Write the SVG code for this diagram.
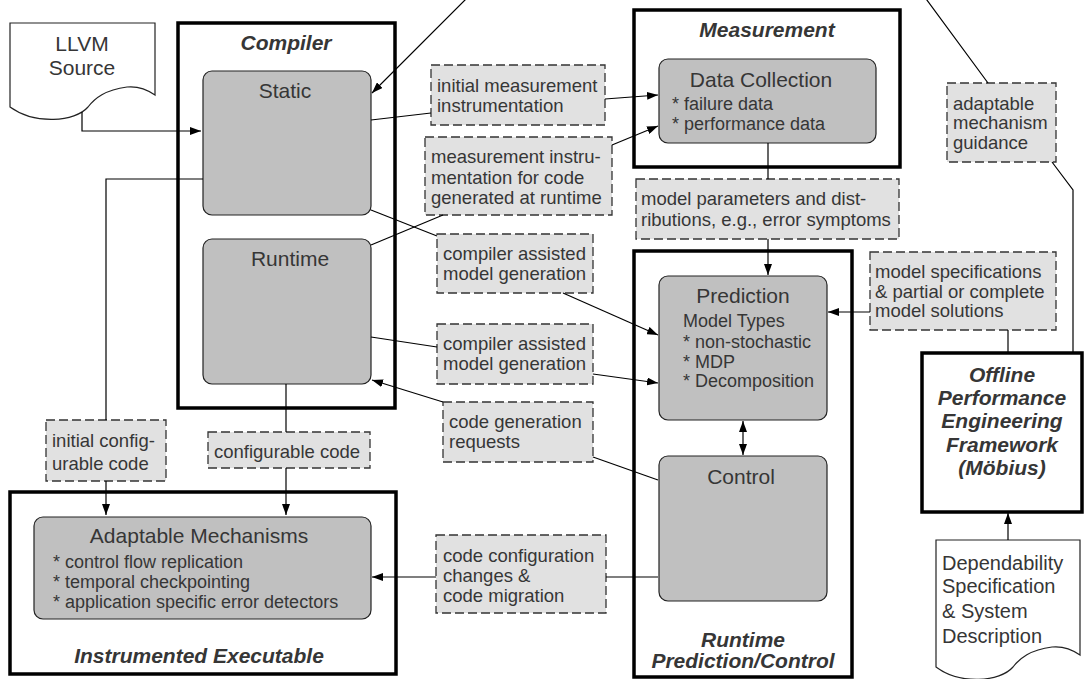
<svg xmlns="http://www.w3.org/2000/svg" width="1084" height="679" viewBox="0 0 1084 679">
<style>
text{font-family:"Liberation Sans",Arial,sans-serif;fill:#363636}
.t{font-size:21px;font-weight:bold;font-style:italic;text-anchor:middle}
.n{font-size:21px;text-anchor:middle}
.b{font-size:18px}
.l{font-size:18.5px}
.d{font-size:20px}
.outer{fill:#fff;stroke:#000;stroke-width:3.5}
.node{fill:#c0c0c0;stroke:#222;stroke-width:1.2}
.lab{fill:#e1e1e1;stroke:#333;stroke-width:1.3;stroke-dasharray:9 4}
.doc{fill:#fff;stroke:#222;stroke-width:1.2}
.c{fill:none;stroke:#000;stroke-width:1.2}
.a{marker-end:url(#ah)}
</style>
<defs>
<marker id="ah" markerWidth="11" markerHeight="8" refX="11" refY="4" orient="auto-start-reverse" markerUnits="userSpaceOnUse">
<path d="M0,0 L11,4 L0,8 z" fill="#000"/>
</marker>
</defs>
<rect width="1084" height="679" fill="#fff"/>

<g id="llvm-source">
<path class="doc" d="M10,23 H155 V95 C145,88 137,86 127,87 C105,90 95,98 88,107 C75,122 35,125 10,107 Z"/>
<text class="n" x="82" y="51">LLVM</text>
<text class="n" x="82" y="75">Source</text>
</g>

<g id="compiler">
<rect class="outer" x="178" y="23" width="217" height="385"/>
<text class="t" x="286" y="50">Compiler</text>
</g>
<g id="static">
<rect class="node" x="203" y="71" width="168" height="144" rx="9"/>
<text class="n" x="285" y="98">Static</text>
</g>
<g id="runtime">
<rect class="node" x="203" y="239" width="168" height="145" rx="9"/>
<text class="n" x="290" y="266">Runtime</text>
</g>

<g id="measurement">
<rect class="outer" x="634" y="10" width="266" height="157"/>
<text class="t" x="767" y="37">Measurement</text>
</g>
<g id="data-collection">
<rect class="node" x="659" y="59" width="217" height="84" rx="9"/>
<text class="n" x="761" y="87">Data Collection</text>
<text class="b" x="672" y="110">* failure data</text>
<text class="b" x="672" y="130">* performance data</text>
</g>

<g id="runtime-prediction-control">
<rect class="outer" x="634" y="251" width="218" height="426"/>
<text class="t" x="743" y="647">Runtime</text>
<text class="t" x="743" y="668">Prediction/Control</text>
</g>
<g id="prediction">
<rect class="node" x="659" y="276" width="168" height="144" rx="9"/>
<text class="n" x="743" y="303">Prediction</text>
<text class="b" x="683" y="327">Model Types</text>
<text class="b" x="683" y="348">* non-stochastic</text>
<text class="b" x="683" y="368">* MDP</text>
<text class="b" x="683" y="387">* Decomposition</text>
</g>
<g id="control">
<rect class="node" x="659" y="456" width="168" height="145" rx="9"/>
<text class="n" x="741" y="484">Control</text>
</g>

<g id="instrumented-executable">
<rect class="outer" x="10" y="492" width="386" height="182"/>
<text class="t" x="199" y="663">Instrumented Executable</text>
</g>
<g id="adaptable-mechanisms">
<rect class="node" x="34" y="517" width="337" height="102" rx="9"/>
<text class="n" x="199" y="543">Adaptable Mechanisms</text>
<text class="b" x="53" y="568">* control flow replication</text>
<text class="b" x="53" y="588">* temporal checkpointing</text>
<text class="b" x="53" y="608">* application specific error detectors</text>
</g>

<g id="offline-framework">
<rect class="outer" x="922" y="353" width="160" height="159"/>
<text class="t" x="1002" y="382">Offline</text>
<text class="t" x="1002" y="405">Performance</text>
<text class="t" x="1002" y="428">Engineering</text>
<text class="t" x="1002" y="452">Framework</text>
<text class="t" x="1002" y="475">(Möbius)</text>
</g>

<g id="dependability-spec">
<path class="doc" d="M936,540 H1080 V655 C1070,648 1062,646 1052,647 C1030,650 1020,658 1013,667 C1000,682 960,685 936,667 Z"/>
<text class="d" x="942" y="570">Dependability</text>
<text class="d" x="942" y="593">Specification</text>
<text class="d" x="942" y="618">&amp; System</text>
<text class="d" x="942" y="643">Description</text>
</g>

<g id="label-initial-measurement">
<rect class="lab" x="431" y="65" width="174" height="60"/>
<text class="l" x="437" y="92">initial measurement</text>
<text class="l" x="437" y="112">instrumentation</text>
</g>
<g id="label-runtime-instrumentation">
<rect class="lab" x="425" y="137" width="187" height="78"/>
<text class="l" x="431" y="163">measurement instru-</text>
<text class="l" x="431" y="184">mentation for code</text>
<text class="l" x="431" y="204">generated at runtime</text>
</g>
<g id="label-cam-static">
<rect class="lab" x="437" y="234" width="156" height="59"/>
<text class="l" x="443" y="260">compiler assisted</text>
<text class="l" x="443" y="280">model generation</text>
</g>
<g id="label-cam-runtime">
<rect class="lab" x="437" y="324" width="156" height="60"/>
<text class="l" x="443" y="350">compiler assisted</text>
<text class="l" x="443" y="370">model generation</text>
</g>
<g id="label-code-gen-requests">
<rect class="lab" x="443" y="402" width="150" height="60"/>
<text class="l" x="449" y="428">code generation</text>
<text class="l" x="449" y="448">requests</text>
</g>
<g id="label-code-config-changes">
<rect class="lab" x="436" y="535" width="170" height="78"/>
<text class="l" x="443" y="562">code configuration</text>
<text class="l" x="443" y="582">changes &amp;</text>
<text class="l" x="443" y="602">code migration</text>
</g>
<g id="label-model-parameters">
<rect class="lab" x="636" y="179" width="263" height="60"/>
<text class="l" x="641" y="205">model parameters and dist-</text>
<text class="l" x="641" y="226">ributions, e.g., error symptoms</text>
</g>
<g id="label-adaptable-guidance">
<rect class="lab" x="947" y="83" width="109" height="79"/>
<text class="l" x="953" y="110">adaptable</text>
<text class="l" x="953" y="129">mechanism</text>
<text class="l" x="953" y="149">guidance</text>
</g>
<g id="label-model-specifications">
<rect class="lab" x="870" y="252" width="186" height="78"/>
<text class="l" x="875" y="278">model specifications</text>
<text class="l" x="875" y="298">&amp; partial or complete</text>
<text class="l" x="875" y="317">model solutions</text>
</g>
<g id="label-initial-configurable">
<rect class="lab" x="46" y="420" width="120" height="61"/>
<text class="l" x="52" y="447">initial config-</text>
<text class="l" x="52" y="470">urable code</text>
</g>
<g id="label-configurable-code">
<rect class="lab" x="208" y="432" width="162" height="36"/>
<text class="l" x="214" y="458">configurable code</text>
</g>

<g id="connectors">
<polyline class="c a" points="82,112 82,131 201,131"/>
<polyline class="c" points="203,179 106,179 106,420"/>
<line class="c a" x1="106" y1="481" x2="106" y2="515"/>
<line class="c" x1="286" y1="384" x2="286" y2="432"/>
<line class="c a" x1="286" y1="468" x2="286" y2="515"/>
<line class="c" x1="371" y1="120" x2="431" y2="113"/>
<line class="c a" x1="605" y1="99" x2="658" y2="95"/>
<line class="c" x1="371" y1="245" x2="443" y2="215"/>
<line class="c a" x1="612" y1="145" x2="658" y2="126"/>
<line class="c" x1="371" y1="210" x2="437" y2="236"/>
<line class="c a" x1="563" y1="293" x2="658" y2="335"/>
<line class="c" x1="371" y1="337" x2="437" y2="347"/>
<line class="c a" x1="593" y1="374" x2="658" y2="383"/>
<line class="c" x1="658" y1="480" x2="593" y2="457"/>
<line class="c a" x1="443" y1="402" x2="372" y2="380"/>
<line class="c" x1="658" y1="577" x2="606" y2="577"/>
<line class="c a" x1="436" y1="577" x2="372" y2="577"/>
<line class="c" x1="768" y1="143" x2="768" y2="179"/>
<line class="c a" x1="768" y1="239" x2="768" y2="275"/>
<line class="c a" x1="870" y1="312" x2="828" y2="312"/>
<line class="c" x1="1008" y1="330" x2="1008" y2="353"/>
<polyline class="c" points="1073,353 1073,190 1052,162"/>
<path class="c a" d="M988,83 L921,-8 L473,-8 L372,93"/>
<line class="c a" x1="743" y1="421" x2="743" y2="455" style="marker-start:url(#ah)"/>
<line class="c a" x1="1008" y1="540" x2="1008" y2="513"/>
</g>
</svg>
